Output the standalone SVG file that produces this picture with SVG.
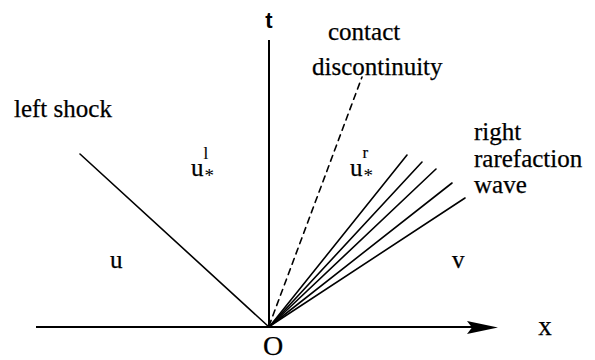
<svg xmlns="http://www.w3.org/2000/svg" width="595" height="360" viewBox="0 0 595 360">
<style>
.ln{stroke:#000;stroke-width:1.6;fill:none;stroke-linecap:round}
.ax{stroke:#000;stroke-width:2;fill:none}
.tx{font-family:"Liberation Serif","Times New Roman",serif;font-size:25px;fill:#000;stroke:#000;stroke-width:0.25}
.sb{font-size:19px;stroke-width:0}
.sp{font-size:17px;stroke-width:0.15}
</style>
<rect width="595" height="360" fill="#fff"/>
<g id="axes">
<line class="ax" x1="36" y1="327" x2="472" y2="327"/>
<polygon points="498,327.5 467,321 472,327.5 467,334" fill="#000"/>
<line class="ax" x1="269" y1="40" x2="269" y2="327"/>
<text x="269" y="28" text-anchor="middle" style="font-family:'Liberation Sans',Arial,sans-serif;font-size:22px;font-weight:bold">t</text>
<text class="tx" x="545" y="335" text-anchor="middle" style="font-size:27px">x</text>
<text class="tx" x="273" y="355" text-anchor="middle" style="font-size:28px">O</text>
</g>
<g id="waves">
<line id="left-shock-line" class="ln" x1="80" y1="154" x2="269" y2="327"/>
<line id="contact-line" class="ln" x1="269" y1="326" x2="362" y2="77" stroke-dasharray="6,5"/>
<g id="rarefaction-fan">
<line class="ln" x1="270" y1="326" x2="407" y2="155"/>
<line class="ln" x1="270" y1="326" x2="422" y2="162"/>
<line class="ln" x1="270" y1="326" x2="436" y2="169"/>
<line class="ln" x1="270" y1="326" x2="452" y2="183"/>
<line class="ln" x1="270" y1="326" x2="465" y2="198"/>
</g>
</g>
<g id="labels">
<text class="tx" x="14" y="117">left shock</text>
<text class="tx" x="328" y="40">contact</text>
<text class="tx" x="312" y="75">discontinuity</text>
<text class="tx" x="474" y="140">right</text>
<text class="tx" x="474" y="167">rarefaction</text>
<text class="tx" x="474" y="193">wave</text>
<text class="tx" x="110" y="268">u</text>
<text class="tx" x="452" y="268">v</text>
<g id="u-star-l">
<text class="tx" x="191" y="176">u</text>
<text class="tx sp" x="203.5" y="159">l</text>
<text class="tx sb" x="204.5" y="182">*</text>
</g>
<g id="u-star-r">
<text class="tx" x="350" y="176">u</text>
<text class="tx sp" x="362.5" y="158">r</text>
<text class="tx sb" x="363.5" y="182">*</text>
</g>
</g>
</svg>
